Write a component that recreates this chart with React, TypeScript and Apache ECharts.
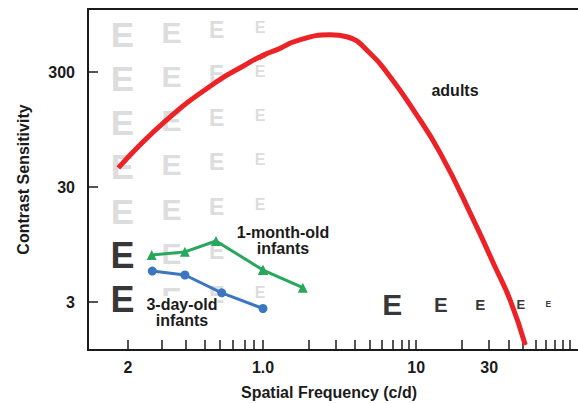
import React, { useEffect, useRef } from "react";
import * as echarts from "echarts";

// ---- data ----
const RED_FREQ = [0.178, 0.317, 0.575, 0.8, 1.0, 1.25, 1.66, 2.74, 3.52, 5.0, 6.76, 9.61, 14.4, 23.7, 32.0, 41.1, 51.6];
const RED_SENS = [44, 115, 247, 342, 418, 472, 561, 632, 608, 437, 273, 140, 58.9, 15.5, 6.5, 3.12, 1.27];

const MONTH_FREQ = [0.265, 0.394, 0.571, 1.0, 1.82];
const MONTH_SENS = [7.7, 8.2, 10.2, 5.7, 4.0];

const DAY_FREQ = [0.267, 0.394, 0.611, 1.0];
const DAY_SENS = [5.58, 5.16, 3.61, 2.64];

const X_TICKS_LEFT = [0.2, 0.3, 0.4, 0.5, 0.6, 0.7, 0.8, 0.9, 1];
const X_TICKS_RIGHT = [2, 3, 4, 5, 6, 7, 8, 9, 10, 20, 30, 40, 50, 60, 70, 80, 90, 100];
const X_LABEL_VALUES = [0.2, 1, 10, 30];
const X_LABEL_TEXTS = ["2", "1.0", "10", "30"];
const Y_TICKS = [3, 30, 300];
const Y_LABEL_TEXTS = ["3", "30", "300"];

// letter chart decoration
const E_COL_FREQ = [0.187, 0.336, 0.575, 0.965];
const E_COL_SIZE = [35, 30, 23, 16];
const E_ROW_TOP_SENS = [821, 342, 140, 58, 23.8, 9.8, 4.05];
const BLACK_E_ROWS = [5, 6];
const BLACK_E_SIZE = 36;
const ROW_E_FREQ = [6.97, 14.5, 26.2, 48.2, 72.9];
const ROW_E_SIZE = [30, 20.5, 15, 13, 8.5];
const ROW_E_SENS = 2.88;

const FONT = "'Liberation Sans', Arial, Helvetica, sans-serif";
const INK = "#1b1b1b";
const RED = "#ec2227";
const GREEN = "#27a85c";
const BLUE = "#3b76c0";
const GRAY_E = "#d4d4d4";

const pairs = (xs: number[], ys: number[]) => xs.map((x, i) => [x, ys[i]]);

const labelFor = (vals: number[], texts: string[]) => (v: number) => {
  const i = vals.findIndex((t) => Math.abs(Math.log10(t) - Math.log10(v)) < 0.01);
  return i >= 0 ? texts[i] : "";
};

export default function App() {
  const ref = useRef<HTMLDivElement>(null);

  useEffect(() => {
    if (!ref.current) return;
    const chart = echarts.init(ref.current, null, { renderer: "svg" });

    const grayE: any[] = [];
    const blackE: any[] = [];
    E_ROW_TOP_SENS.forEach((s, r) => {
      E_COL_FREQ.forEach((f, c) => {
        const isBlack = c === 0 && BLACK_E_ROWS.includes(r);
        const fs = isBlack ? BLACK_E_SIZE : E_COL_SIZE[c];
        const item = {
          value: [f, s],
          label: { fontSize: fs, offset: [0, fs * 0.358] },
        };
        (isBlack ? blackE : grayE).push(item);
      });
    });
    const rowE = ROW_E_FREQ.map((f, i) => ({
      value: [f, ROW_E_SENS],
      label: { fontSize: ROW_E_SIZE[i] },
    }));

    const eSeries = (data: any[], color: string, xi: number) => ({
      type: "scatter",
      xAxisIndex: xi,
      yAxisIndex: xi,
      symbolSize: 0,
      silent: true,
      z: 1,
      data,
      label: {
        show: true,
        position: "inside",
        formatter: "E",
        color,
        fontWeight: "bold",
        fontFamily: FONT,
        align: "center",
        verticalAlign: "middle",
      },
    });

    const axisLine = { show: true, onZero: false, lineStyle: { color: INK, width: 2 } };
    const tickStyle = { color: INK, width: 1.5 };
    const labelStyle = {
      color: INK,
      fontSize: 16,
      fontWeight: "bold",
      fontFamily: FONT,
    };

    const xBottom = (grid: number, min: number, max: number, ticks: number[], labels: number[]) => ({
      type: "log",
      gridIndex: grid,
      min,
      max,
      position: "bottom",
      axisLine,
      axisTick: { show: true, inside: true, length: 10, customValues: ticks, lineStyle: tickStyle },
      axisLabel: {
        show: true,
        customValues: labels,
        margin: 9,
        ...labelStyle,
        formatter: labelFor(X_LABEL_VALUES, X_LABEL_TEXTS),
      },
      splitLine: { show: false },
      minorTick: { show: false },
    });
    const xTop = (grid: number) => ({
      type: "value",
      gridIndex: grid,
      position: "top",
      min: 0,
      max: 1,
      axisLine,
      axisTick: { show: false },
      axisLabel: { show: false },
      splitLine: { show: false },
    });

    const lineSeries = (
      xi: number,
      xs: number[],
      ys: number[],
      color: string,
      width: number,
      symbol: string,
      symbolSize: number,
      smooth: number | boolean
    ) => ({
      type: "line",
      xAxisIndex: xi,
      yAxisIndex: xi,
      data: pairs(xs, ys),
      smooth,
      clip: true,
      symbol,
      symbolSize,
      showSymbol: symbol !== "none",
      lineStyle: { color, width },
      itemStyle: { color },
      z: 3,
      silent: true,
    });

    const note = (text: string, x: number, y: number) => ({
      type: "text",
      x,
      y,
      z: 2,
      style: {
        text,
        fill: INK,
        fontSize: 16,
        fontWeight: "bold",
        fontFamily: FONT,
        lineHeight: 16,
        backgroundColor: "#ffffff",
        align: "center",
        verticalAlign: "middle",
        textAlign: "center",
        textVerticalAlign: "middle",
      },
    });

    chart.setOption({
      animation: false,
      grid: [
        { left: 88, top: 9, width: 175, height: 341 },
        { left: 263, top: 9, width: 315, height: 341 },
      ],
      xAxis: [
        xBottom(0, 0.124, 1, X_TICKS_LEFT, [0.2, 1]),
        xBottom(1, 1, 114, X_TICKS_RIGHT, [10, 30]),
        xTop(0),
        xTop(1),
      ],
      yAxis: [
        {
          type: "log",
          gridIndex: 0,
          min: 1.15,
          max: 1060,
          name: "Contrast Sensitivity",
          nameLocation: "middle",
          nameGap: 57,
          nameTextStyle: { ...labelStyle },
          axisLine,
          axisTick: { show: true, inside: true, length: 10, customValues: Y_TICKS, lineStyle: tickStyle },
          axisLabel: {
            show: true,
            customValues: Y_TICKS,
            margin: 13,
            ...labelStyle,
            formatter: labelFor(Y_TICKS, Y_LABEL_TEXTS),
          },
          splitLine: { show: false },
          minorTick: { show: false },
        },
        {
          type: "log",
          gridIndex: 1,
          min: 1.15,
          max: 1060,
          show: false,
          splitLine: { show: false },
        },
      ],
      graphic: [
        {
          type: "text",
          x: 329,
          y: 392,
          style: {
            text: "Spatial Frequency (c/d)",
            fill: INK,
            fontSize: 16,
            fontWeight: "bold",
            fontFamily: FONT,
            align: "center",
            verticalAlign: "middle",
            textAlign: "center",
            textVerticalAlign: "middle",
          },
        },
        note("adults", 455, 90),
        note("1-month-old\ninfants", 283, 240),
        note("3-day-old\ninfants", 182, 312),
      ],
      series: [
        eSeries(grayE, GRAY_E, 0),
        eSeries(blackE, "#000000", 0),
        eSeries(rowE, "#000000", 1),
        lineSeries(0, RED_FREQ, RED_SENS, RED, 5, "none", 0, 0.5),
        lineSeries(1, RED_FREQ, RED_SENS, RED, 5, "none", 0, 0.5),
        lineSeries(0, MONTH_FREQ, MONTH_SENS, GREEN, 3, "triangle", 10, false),
        lineSeries(1, MONTH_FREQ, MONTH_SENS, GREEN, 3, "triangle", 10, false),
        lineSeries(0, DAY_FREQ, DAY_SENS, BLUE, 3, "circle", 9, false),
      ],
    });

    return () => chart.dispose();
  }, []);

  return (
    <div
      ref={ref}
      style={{ position: "fixed", left: 0, top: 0, width: 578, height: 403, background: "#fff" }}
    />
  );
}
